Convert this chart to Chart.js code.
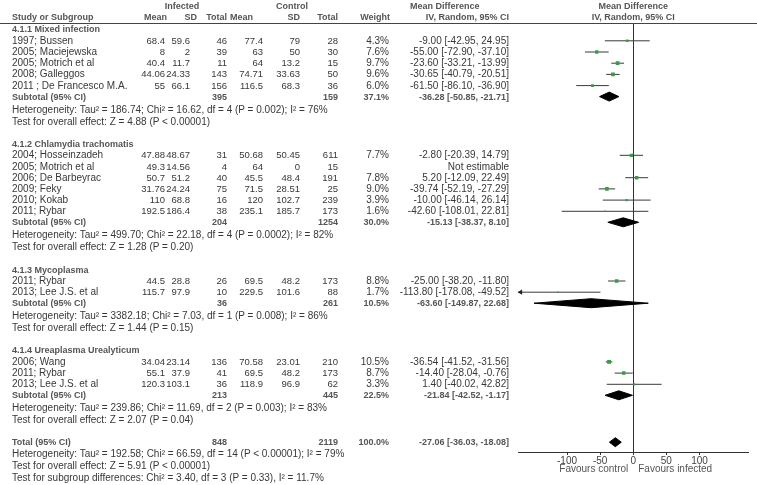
<!DOCTYPE html>
<html>
<head>
<meta charset="utf-8">
<script src="https://cdn.jsdelivr.net/npm/chart.js@4.4.0/dist/chart.umd.min.js"></script>
<style>
html, body { margin: 0; padding: 0; background: #fff; }
#wrap { position: relative; width: 757px; height: 485px; overflow: hidden; font-family: Arial, "Liberation Sans", sans-serif; }
#plotBox { position: absolute; left: 0; top: 0; width: 757px; height: 485px; }
#hline { position: absolute; left: 0; width: 757px; height: 1px; background: #444; }
.t { position: absolute; white-space: nowrap; font-size: 10px; line-height: 12px; color: #383838; }
.n { font-size: 9.5px; }
.b { font-weight: bold; font-size: 9px; color: #555; }
.g { color: #555; }
</style>
</head>
<body>
<div id="wrap">
  <div id="plotBox"><canvas id="forest"></canvas></div>
  <div id="hline"></div>
</div>
<script>
// Données des sous-groupes
const groupNames = ['4.1.1 Mixed infection', '4.1.2 Chlamydia trachomatis', '4.1.3 Mycoplasma', '4.1.4 Ureaplasma Urealyticum'];
const subInfTotal = [395, 204, 36, 213];
const subCtlTotal = [159, 1254, 261, 445];
const subWeight = [37.1, 30.0, 10.5, 22.5];
const subEst = [-36.28, -15.13, -63.60, -21.84];
const subLow = [-50.85, -38.37, -149.87, -42.52];
const subHigh = [-21.71, 8.10, 22.68, -1.17];
const hetText = [
  'Heterogeneity: Tau\u00b2 = 186.74; Chi\u00b2 = 16.62, df = 4 (P = 0.002); I\u00b2 = 76%',
  'Heterogeneity: Tau\u00b2 = 499.70; Chi\u00b2 = 22.18, df = 4 (P = 0.0002); I\u00b2 = 82%',
  'Heterogeneity: Tau\u00b2 = 3382.18; Chi\u00b2 = 7.03, df = 1 (P = 0.008); I\u00b2 = 86%',
  'Heterogeneity: Tau\u00b2 = 239.86; Chi\u00b2 = 11.69, df = 2 (P = 0.003); I\u00b2 = 83%'
];
const effectText = [
  'Test for overall effect: Z = 4.88 (P < 0.00001)',
  'Test for overall effect: Z = 1.28 (P = 0.20)',
  'Test for overall effect: Z = 1.44 (P = 0.15)',
  'Test for overall effect: Z = 2.07 (P = 0.04)'
];

// Données des études
const studyGroup = [0, 0, 0, 0, 0, 1, 1, 1, 1, 1, 1, 2, 2, 3, 3, 3];
const studyNames = ['1997; Bussen', '2005; Maciejewska', '2005; Motrich et al', '2008; Galleggos', '2011 ; De Francesco M.A.',
  '2004; Hosseinzadeh', '2005; Motrich et al', '2006; De Barbeyrac', '2009; Feky', '2010; Kokab', '2011; Rybar',
  '2011; Rybar', '2013; Lee J.S. et al',
  '2006; Wang', '2011; Rybar', '2013; Lee J.S. et al'];
const infMean = [68.4, 8, 40.4, 44.06, 55, 47.88, 49.3, 50.7, 31.76, 110, 192.5, 44.5, 115.7, 34.04, 55.1, 120.3];
const infSD = [59.6, 2, 11.7, 24.33, 66.1, 48.67, 14.56, 51.2, 24.24, 68.8, 186.4, 28.8, 97.9, 23.14, 37.9, 103.1];
const infTotal = [46, 39, 11, 143, 156, 31, 4, 40, 75, 16, 38, 26, 10, 136, 41, 36];
const ctlMean = [77.4, 63, 64, 74.71, 116.5, 50.68, 64, 45.5, 71.5, 120, 235.1, 69.5, 229.5, 70.58, 69.5, 118.9];
const ctlSD = [79, 50, 13.2, 33.63, 68.3, 50.45, 0, 48.4, 28.51, 102.7, 185.7, 48.2, 101.6, 23.01, 48.2, 96.9];
const ctlTotal = [28, 30, 15, 50, 36, 611, 15, 191, 25, 239, 173, 173, 88, 210, 173, 62];
const weights = [4.3, 7.6, 9.7, 9.6, 6.0, 7.7, null, 7.8, 9.0, 3.9, 1.6, 8.8, 1.7, 10.5, 8.7, 3.3];
const mdEst = [-9.00, -55.00, -23.60, -30.65, -61.50, -2.80, null, 5.20, -39.74, -10.00, -42.60, -25.00, -113.80, -36.54, -14.40, 1.40];
const mdLow = [-42.95, -72.90, -33.21, -40.79, -86.10, -20.39, null, -12.09, -52.19, -46.14, -108.01, -38.20, -178.08, -41.52, -28.04, -40.02];
const mdHigh = [24.95, -37.10, -13.99, -20.51, -36.90, 14.79, null, 22.49, -27.29, 26.14, 22.81, -11.80, -49.52, -31.56, -0.76, 42.82];

// Total
const totalInf = 848;
const totalCtl = 2119;
const totalWeight = 100.0;
const totalEst = -27.06;
const totalLow = -36.03;
const totalHigh = -18.08;
const totalLines = [
  'Heterogeneity: Tau\u00b2 = 192.58; Chi\u00b2 = 66.59, df = 14 (P < 0.00001); I\u00b2 = 79%',
  'Test for overall effect: Z = 5.91 (P < 0.00001)',
  'Test for subgroup differences: Chi\u00b2 = 3.40, df = 3 (P = 0.33), I\u00b2 = 11.7%'
];

// Axe
const xTicks = [-100, -50, 0, 50, 100];
const xLimit = 174;
const favoursLeft = 'Favours control';
const favoursRight = 'Favours infected';

// Mise en page verticale (en pixels de l'axe y, depuis la ligne d'en-tête)
const GAP = { title: 6.3, nextTitle: 22.3, firstStudy: 11.5, study: 11.2, subtotal: 11, het: 12.9, effect: 12, total: 22, totalLine: 12 };
const plotDepth = 429;

const rows = [];
let cursor = GAP.title;
groupNames.forEach((name, g) => {
  if (g > 0) cursor += GAP.nextTitle;
  rows.push({ kind: 'title', g: g, y: cursor });
  let first = true;
  studyNames.forEach((s, i) => {
    if (studyGroup[i] !== g) return;
    cursor += first ? GAP.firstStudy : GAP.study;
    first = false;
    rows.push({ kind: 'study', i: i, y: cursor });
  });
  cursor += GAP.subtotal;
  rows.push({ kind: 'subtotal', g: g, y: cursor });
  cursor += GAP.het;
  rows.push({ kind: 'het', g: g, y: cursor });
  cursor += GAP.effect;
  rows.push({ kind: 'effect', g: g, y: cursor });
});
cursor += GAP.total;
rows.push({ kind: 'total', y: cursor });
totalLines.forEach((txt, k) => {
  cursor += GAP.totalLine;
  rows.push({ kind: 'totalText', k: k, y: cursor });
});

// Construction des datasets
const ciColor = '#3a3a3a';
const squareColor = '#3a9a48';
const diamondHalf = 4.5;
const squarePts = [];
const squareRadius = [];
const ciSets = [];
const diamondSets = [];
const arrowPts = [];

function diamond(lo, est, hi, y) {
  return {
    data: [{ x: lo, y: y }, { x: est, y: y - diamondHalf }, { x: hi, y: y }, { x: est, y: y + diamondHalf }, { x: lo, y: y }],
    borderColor: '#000', backgroundColor: '#000', borderWidth: 1, pointRadius: 0, fill: 'shape', tension: 0
  };
}

rows.forEach(r => {
  if (r.kind === 'study') {
    const i = r.i;
    if (mdEst[i] === null) return;
    squarePts.push({ x: mdEst[i], y: r.y });
    squareRadius.push(Math.sqrt(weights[i]) * 0.85);
    ciSets.push({
      data: [{ x: mdLow[i], y: r.y }, { x: mdHigh[i], y: r.y }],
      borderColor: ciColor, borderWidth: 1, pointRadius: 0, fill: false
    });
    if (mdLow[i] < -xLimit) arrowPts.push({ x: -xLimit + 4, y: r.y });
  } else if (r.kind === 'subtotal') {
    diamondSets.push(diamond(subLow[r.g], subEst[r.g], subHigh[r.g], r.y));
  } else if (r.kind === 'total') {
    diamondSets.push(diamond(totalLow, totalEst, totalHigh, r.y));
  }
});

const datasets = [
  { data: squarePts, showLine: false, pointStyle: 'rect', pointRadius: squareRadius, pointBackgroundColor: squareColor, pointBorderWidth: 0, pointBorderColor: squareColor },
  { data: arrowPts, showLine: false, pointStyle: 'triangle', rotation: 270, pointRadius: 3, pointBackgroundColor: '#222', pointBorderColor: '#222', pointBorderWidth: 0, clip: false }
].concat(ciSets, diamondSets);

const chart = new Chart(document.getElementById('forest'), {
  type: 'line',
  data: { datasets: datasets },
  options: {
    responsive: true,
    maintainAspectRatio: false,
    animation: false,
    events: [],
    layout: { padding: { left: 518, right: 8.5, top: 23, bottom: 11 } },
    plugins: { legend: { display: false }, tooltip: { enabled: false } },
    scales: {
      x: {
        type: 'linear', min: -xLimit, max: xLimit,
        afterBuildTicks: s => { s.ticks = xTicks.map(v => ({ value: v })); },
        afterFit: s => { s.height = 22; },
        grid: {
          drawOnChartArea: true,
          color: c => (c.tick && c.tick.value === 0) ? '#333' : 'rgba(0,0,0,0)',
          tickColor: '#333', tickLength: 3
        },
        border: { display: true, color: '#333', width: 1 },
        ticks: { padding: 0, color: '#444', autoSkip: false, maxRotation: 0, font: { family: 'Arial, "Liberation Sans", sans-serif', size: 10 } }
      },
      y: { type: 'linear', display: false, reverse: true, min: 0, max: plotDepth }
    }
  }
});

// Texte du tableau (HTML)
const wrap = document.getElementById('wrap');
function put(txt, x, y, align, cls) {
  const d = document.createElement('div');
  d.className = 't' + (cls ? ' ' + cls : '');
  d.textContent = txt;
  d.style.top = (y - 6) + 'px';
  if (align === 'right') {
    d.style.right = (757 - x) + 'px';
  } else if (align === 'center') {
    d.style.left = (x - 100) + 'px';
    d.style.width = '200px';
    d.style.textAlign = 'center';
  } else {
    d.style.left = x + 'px';
  }
  wrap.appendChild(d);
}

const col = { label: 12, infMean: 165, infSD: 190, infTotal: 227, ctlMean: 263, ctlSD: 300, ctlTotal: 338, weight: 389, md: 509 };
const ys = chart.scales.y;
const xs = chart.scales.x;
const top0 = chart.chartArea.top;
const zeroX = xs.getPixelForValue(0);
function ciLabel(est, lo, hi) {
  return est.toFixed(2) + ' [' + lo.toFixed(2) + ', ' + hi.toFixed(2) + ']';
}

document.getElementById('hline').style.top = (top0 - 0.5) + 'px';

// En-têtes
const h1 = top0 - 17.3, h2 = top0 - 5.7;
put('Infected', 182, h1, 'center', 'b');
put('Control', 292, h1, 'center', 'b');
put('Mean Difference', 410, h1, 'left', 'b');
put('Mean Difference', zeroX, h1, 'center', 'b');
put('Study or Subgroup', col.label, h2, 'left', 'b');
put('Mean', 167, h2, 'right', 'b');
put('SD', 197, h2, 'right', 'b');
put('Total', col.infTotal, h2, 'right', 'b');
put('Mean', 253, h2, 'right', 'b');
put('SD', col.ctlSD, h2, 'right', 'b');
put('Total', col.ctlTotal, h2, 'right', 'b');
put('Weight', 390, h2, 'right', 'b');
put('IV, Random, 95% CI', col.md, h2, 'right', 'b');
put('IV, Random, 95% CI', zeroX, h2, 'center', 'b');

rows.forEach(r => {
  const y = ys.getPixelForValue(r.y);
  if (r.kind === 'title') {
    put(groupNames[r.g], col.label, y, 'left', 'b');
  } else if (r.kind === 'study') {
    const i = r.i;
    put(studyNames[i], col.label, y, 'left');
    put(String(infMean[i]), col.infMean, y, 'right', 'n');
    put(String(infSD[i]), col.infSD, y, 'right', 'n');
    put(String(infTotal[i]), col.infTotal, y, 'right', 'n');
    put(String(ctlMean[i]), col.ctlMean, y, 'right', 'n');
    put(String(ctlSD[i]), col.ctlSD, y, 'right', 'n');
    put(String(ctlTotal[i]), col.ctlTotal, y, 'right', 'n');
    if (mdEst[i] === null) {
      put('Not estimable', col.md, y, 'right');
    } else {
      put(weights[i].toFixed(1) + '%', col.weight, y, 'right');
      put(ciLabel(mdEst[i], mdLow[i], mdHigh[i]), col.md, y, 'right');
    }
  } else if (r.kind === 'subtotal') {
    put('Subtotal (95% CI)', col.label, y, 'left', 'b');
    put(String(subInfTotal[r.g]), col.infTotal, y, 'right', 'b');
    put(String(subCtlTotal[r.g]), col.ctlTotal, y, 'right', 'b');
    put(subWeight[r.g].toFixed(1) + '%', col.weight, y, 'right', 'b');
    put(ciLabel(subEst[r.g], subLow[r.g], subHigh[r.g]), col.md, y, 'right', 'b');
  } else if (r.kind === 'het') {
    put(hetText[r.g], col.label, y, 'left');
  } else if (r.kind === 'effect') {
    put(effectText[r.g], col.label, y, 'left');
  } else if (r.kind === 'total') {
    put('Total (95% CI)', col.label, y, 'left', 'b');
    put(String(totalInf), col.infTotal, y, 'right', 'b');
    put(String(totalCtl), col.ctlTotal, y, 'right', 'b');
    put(totalWeight.toFixed(1) + '%', col.weight, y, 'right', 'b');
    put(ciLabel(totalEst, totalLow, totalHigh), col.md, y, 'right', 'b');
  } else if (r.kind === 'totalText') {
    put(totalLines[r.k], col.label, y, 'left');
  }
});

// Légende de l'axe
const favY = chart.chartArea.bottom + 16.6;
put(favoursLeft, zeroX - 5, favY, 'right', 'g');
put(favoursRight, zeroX + 5, favY, 'left', 'g');
</script>
</body>
</html>
